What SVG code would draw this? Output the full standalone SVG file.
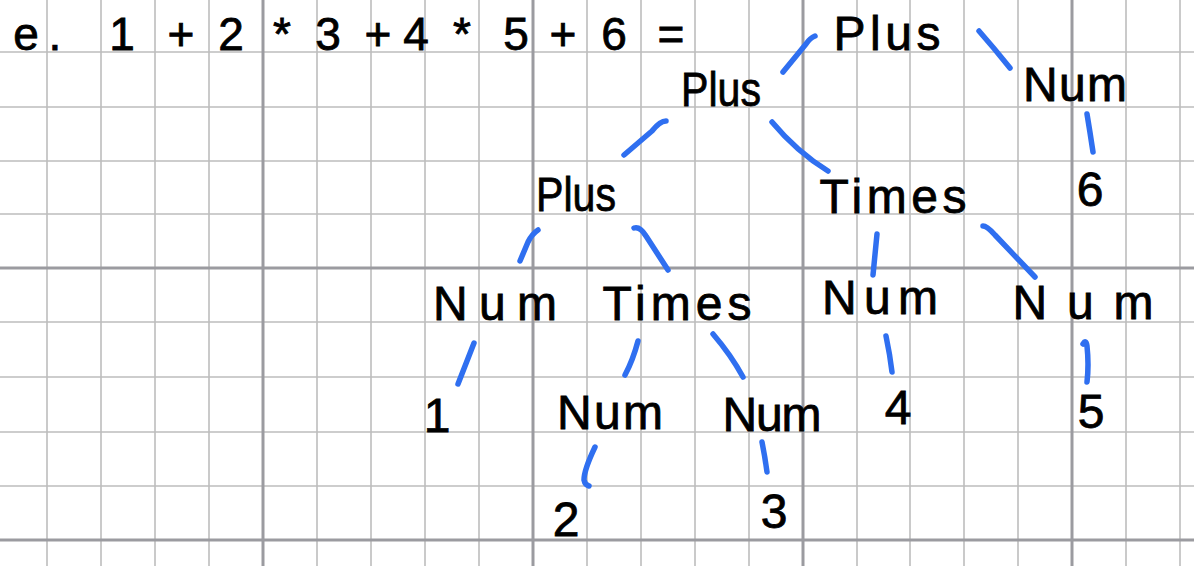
<svg xmlns="http://www.w3.org/2000/svg" width="1194" height="566" viewBox="0 0 1194 566">
<style>
  .minor { stroke: #bdbdbd; stroke-width: 1.6; fill: none; }
  .major { stroke: #9b9ba0; stroke-width: 3; fill: none; }
  .lbl { font-family: "Liberation Sans", Arial, sans-serif; font-size: 48px; fill: #000; stroke: #000; stroke-width: 0.8; text-anchor: middle; }
  .eq { font-family: "Liberation Sans", Arial, sans-serif; font-size: 46px; fill: #000; stroke: #000; stroke-width: 0.8; text-anchor: middle; }
  .edge { stroke: #2f6ff0; stroke-width: 5.5; stroke-linecap: round; stroke-linejoin: round; fill: none; }
</style>
<rect x="0" y="0" width="1194" height="566" fill="#ffffff"/>
<g id="grid">
  <path class="minor" d="M47,0V566 M101,0V566 M155,0V566 M209,0V566 M317,0V566 M371,0V566 M425,0V566 M479,0V566 M587,0V566 M641,0V566 M695,0V566 M749,0V566 M857,0V566 M910,0V566 M964,0V566 M1018,0V566 M1126,0V566 M1180,0V566"/>
  <path class="minor" d="M0,52H1194 M0,107H1194 M0,161H1194 M0,214H1194 M0,322H1194 M0,377H1194 M0,432H1194 M0,486H1194"/>
  <path class="major" d="M263,0V566 M533,0V566 M803,0V566 M1072,0V566 M0,268H1194 M0,540H1194"/>
</g>
<g id="equation">
  <text class="eq" y="50"><tspan x="26">e</tspan><tspan x="55">.</tspan><tspan x="122">1</tspan><tspan x="181">+</tspan><tspan x="231">2</tspan><tspan x="282">*</tspan><tspan x="328">3</tspan><tspan x="378">+</tspan><tspan x="416">4</tspan><tspan x="462">*</tspan><tspan x="516">5</tspan><tspan x="563">+</tspan><tspan x="614">6</tspan><tspan x="671">=</tspan></text>
</g>
<g id="connectors">
  <path class="edge" d="M783,72 L806,44 Q810,38 815,36"/>
  <path class="edge" d="M979,31 Q994,48 1010,68"/>
  <path class="edge" d="M1087,114 Q1090,132 1093,152"/>
  <path class="edge" d="M666,121 Q660,121 652,131 L624,155"/>
  <path class="edge" d="M772,122 Q797,152 828,171"/>
  <path class="edge" d="M538,230 Q532,234 528,242 L520,261"/>
  <path class="edge" d="M634,228 Q640,226 646,236 L668,270"/>
  <path class="edge" d="M877,234 L873,275"/>
  <path class="edge" d="M983,226 Q987,226 995,235 L1035,277"/>
  <path class="edge" d="M474,343 L458,384"/>
  <path class="edge" d="M638,341 Q633,360 625,375"/>
  <path class="edge" d="M713,334 Q731,355 743,377"/>
  <path class="edge" d="M595,447 Q584,470 584,480 Q585,485 589,486"/>
  <path class="edge" d="M762,442 Q765,457 767,472"/>
  <path class="edge" d="M886,336 Q890,355 892,372"/>
  <path class="edge" d="M1083,344 Q1086,339 1087,346 Q1089,365 1087,382"/>
</g>
<g id="n-plus-root"><text class="lbl" x="887" y="50" textLength="107" lengthAdjust="spacing">Plus</text></g>
<g id="n-plus-2"><text class="lbl" x="721" y="106" textLength="80" lengthAdjust="spacingAndGlyphs">Plus</text></g>
<g id="n-num-6"><text class="lbl" x="1075" y="101" textLength="104" lengthAdjust="spacing">Num</text></g>
<g id="n-6"><text class="lbl" x="1090" y="206">6</text></g>
<g id="n-plus-3"><text class="lbl" x="576" y="211" textLength="80" lengthAdjust="spacingAndGlyphs">Plus</text></g>
<g id="n-times-3"><text class="lbl" x="893" y="213" textLength="147" lengthAdjust="spacing">Times</text></g>
<g id="n-num-1"><text class="lbl" x="495" y="320" textLength="124" lengthAdjust="spacing">Num</text></g>
<g id="n-times-4"><text class="lbl" x="677" y="320" textLength="149" lengthAdjust="spacing">Times</text></g>
<g id="n-num-4"><text class="lbl" x="880" y="314" textLength="116" lengthAdjust="spacing">Num</text></g>
<g id="n-num-5"><text class="lbl" x="1083" y="319" textLength="141" lengthAdjust="spacing">Num</text></g>
<g id="n-1"><text class="lbl" x="437" y="432">1</text></g>
<g id="n-num-2"><text class="lbl" x="610" y="429" textLength="106" lengthAdjust="spacing">Num</text></g>
<g id="n-num-3"><text class="lbl" x="772" y="431" textLength="99" lengthAdjust="spacing">Num</text></g>
<g id="n-4"><text class="lbl" x="898" y="424">4</text></g>
<g id="n-5"><text class="lbl" x="1091" y="428">5</text></g>
<g id="n-2"><text class="lbl" x="566" y="536">2</text></g>
<g id="n-3"><text class="lbl" x="774" y="528">3</text></g>
</svg>
